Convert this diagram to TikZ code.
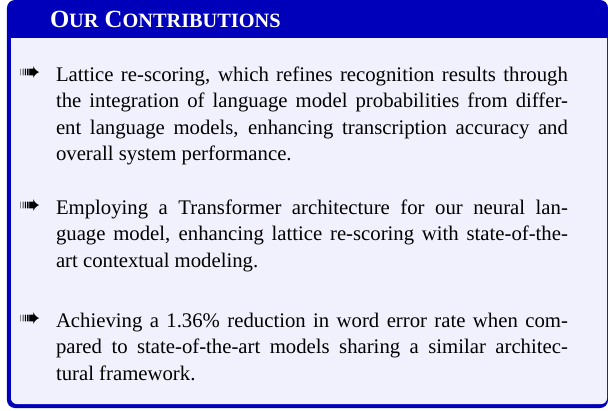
\documentclass[tikz,border=0pt]{standalone}
\usepackage{fontspec}
\setmainfont{Liberation Serif}
\usepackage{pifont}
\definecolor{titleblue}{RGB}{0,0,187}
\definecolor{bodybg}{RGB}{241,241,253}
\newcommand\smcap[1]{{\fontsize{9.2}{10}\selectfont #1}}
\newcommand\jline[1]{\makebox[231.9pt][s]{#1}}
\begin{document}
\begin{tikzpicture}[x=0.453pt,y=-0.453pt,
  every node/.style={inner sep=0pt,outer sep=0pt},
  txt/.style={anchor=base west,font=\fontsize{9.4}{12}\selectfont,text=black},
  bul/.style={anchor=base west,font=\fontsize{10.5}{12}\selectfont,text=black},
  ttl/.style={anchor=base west,font=\bfseries\fontsize{11.2}{12}\selectfont,text=white}]
\useasboundingbox (0,0) rectangle (608,410);
% frame and title bar
\fill[titleblue, rounded corners=3.6pt] (7,0) rectangle (608,408);
\fill[bodybg] (11,38) -- (607,38) [rounded corners=2.6pt] -- (607,404) -- (11,404) [sharp corners] -- cycle;
% title
\node[ttl] (title) at (50,27) {O\smcap{UR} C\smcap{ONTRIBUTIONS}};
% item 1
\node[bul] (b1) at (20,80) {\ding{224}};
\node[txt] (a1) at (56,81) {\jline{Lattice re-scoring, which refines recognition results through}};
\node[txt] (a2) at (56,107.5) {\jline{the integration of language model probabilities from differ-}};
\node[txt] (a3) at (56,134) {\jline{ent language models, enhancing transcription accuracy and}};
\node[txt] (a4) at (56,160.5) {overall system performance.};
% item 2
\node[bul] (b2) at (20,213) {\ding{224}};
\node[txt] (c1) at (56,214) {\jline{Employing a Transformer architecture for our neural lan-}};
\node[txt] (c2) at (56,240.5) {\jline{guage model, enhancing lattice re-scoring with state-of-the-}};
\node[txt] (c3) at (56,267) {art contextual modeling.};
% item 3
\node[bul] (b3) at (20,326) {\ding{224}};
\node[txt] (d1) at (56,327) {\jline{Achieving a 1.36\% reduction in word error rate when com-}};
\node[txt] (d2) at (56,353.5) {\jline{pared to state-of-the-art models sharing a similar architec-}};
\node[txt] (d3) at (56,380) {tural framework.};
\end{tikzpicture}
\end{document}
